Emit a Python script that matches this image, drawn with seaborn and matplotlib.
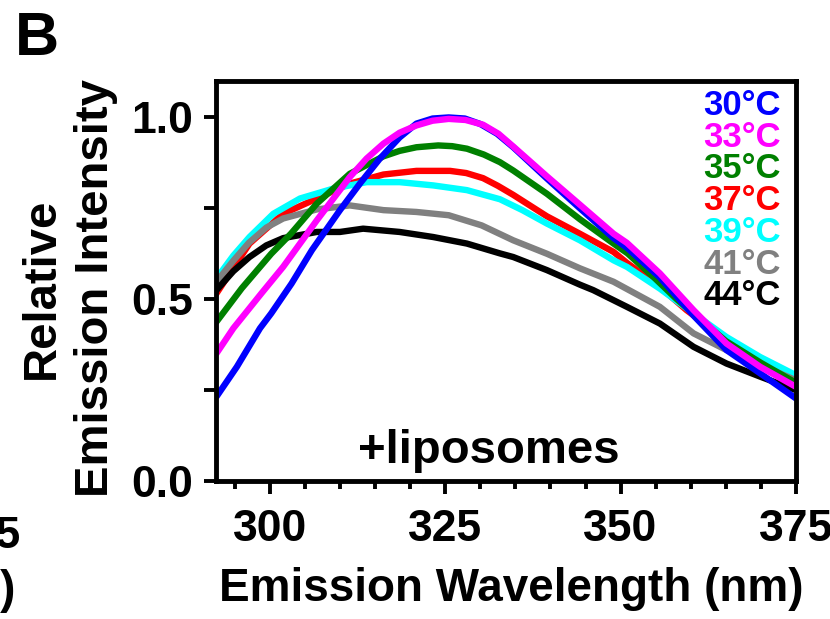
import matplotlib
matplotlib.use("Agg")
import matplotlib.pyplot as plt
import pandas as pd
import seaborn as sns
from matplotlib.ticker import MultipleLocator

# emission spectra (+liposomes)
labels = ["30°C", "33°C", "35°C", "37°C", "39°C", "41°C", "44°C"]
colors = ["#0000FF", "#FF00FF", "#008000", "#FF0000", "#00FFFF", "#808080", "#000000"]

wl_30 = [292.4, 295.3, 298.6, 300.2, 303.1, 306.0, 310.0, 313.0, 315.7, 318.5, 320.9, 323.2,
         325.5, 327.8, 330.0, 332.4, 334.7, 339.5, 344.2, 349.0, 351.0, 355.6, 360.4, 365.1,
         369.9, 375.0]
int_30 = [0.232, 0.314, 0.420, 0.461, 0.543, 0.635, 0.745, 0.822, 0.887, 0.945, 0.983, 0.997,
          1.000, 0.997, 0.982, 0.955, 0.918, 0.832, 0.750, 0.668, 0.640, 0.560, 0.455, 0.360,
          0.296, 0.227]

wl_33 = [292.4, 294.8, 298.8, 301.9, 306.7, 311.4, 313.8, 316.2, 318.5, 320.9, 323.2, 325.5,
         327.9, 330.4, 332.6, 334.7, 339.5, 344.2, 349.0, 350.9, 355.6, 360.4, 365.1, 369.9,
         375.0]
int_33 = [0.351, 0.420, 0.516, 0.589, 0.717, 0.836, 0.887, 0.928, 0.958, 0.978, 0.991, 0.996,
          0.993, 0.980, 0.955, 0.920, 0.838, 0.760, 0.680, 0.655, 0.571, 0.470, 0.378, 0.314,
          0.259]

wl_35 = [292.4, 296.0, 300.2, 303.0, 306.7, 311.4, 316.2, 318.5, 320.9, 324.0, 326.0, 328.1,
         330.5, 332.8, 334.7, 339.5, 344.2, 349.0, 351.0, 354.7, 358.0, 360.4, 365.0, 370.0,
         375.0]
int_35 = [0.438, 0.530, 0.625, 0.680, 0.763, 0.845, 0.893, 0.908, 0.918, 0.923, 0.921, 0.914,
          0.898, 0.877, 0.854, 0.790, 0.720, 0.653, 0.626, 0.561, 0.500, 0.460, 0.385, 0.325,
          0.270]

wl_37 = [292.4, 297.1, 301.9, 306.7, 311.4, 316.2, 320.9, 325.7, 328.0, 330.4, 332.5, 334.7,
         339.5, 344.2, 349.0, 350.9, 355.6, 359.4, 365.0, 370.0, 375.0]
int_37 = [0.516, 0.653, 0.735, 0.777, 0.818, 0.843, 0.853, 0.853, 0.847, 0.833, 0.812, 0.787,
          0.728, 0.680, 0.630, 0.600, 0.534, 0.470, 0.390, 0.330, 0.270]

wl_39 = [292.4, 294.8, 297.1, 300.5, 304.3, 309.0, 313.8, 318.5, 323.3, 328.1, 332.8, 336.0,
         339.5, 344.2, 349.0, 350.9, 355.6, 360.4, 365.1, 369.9, 375.0]
int_39 = [0.557, 0.620, 0.671, 0.735, 0.777, 0.804, 0.822, 0.822, 0.813, 0.800, 0.775, 0.745,
          0.708, 0.662, 0.607, 0.589, 0.529, 0.461, 0.396, 0.341, 0.291]

wl_41 = [292.4, 294.8, 297.0, 299.5, 301.9, 306.7, 311.4, 316.2, 320.9, 325.5, 330.2, 334.7,
         339.5, 344.2, 349.0, 355.6, 360.4, 365.1, 369.9, 375.0]
int_41 = [0.548, 0.606, 0.655, 0.697, 0.722, 0.747, 0.758, 0.745, 0.740, 0.731, 0.703, 0.662,
          0.625, 0.585, 0.548, 0.479, 0.406, 0.360, 0.319, 0.277]

wl_44 = [292.4, 294.8, 297.1, 299.5, 301.9, 306.7, 310.0, 313.3, 318.5, 323.3, 328.1, 332.8,
         334.7, 339.5, 344.2, 346.1, 350.9, 355.6, 360.4, 365.1, 369.9, 375.0]
int_44 = [0.525, 0.577, 0.616, 0.648, 0.668, 0.685, 0.685, 0.694, 0.685, 0.671, 0.653, 0.626,
          0.616, 0.580, 0.540, 0.525, 0.479, 0.433, 0.369, 0.323, 0.287, 0.250]

series = {
    "30°C": (wl_30, int_30),
    "33°C": (wl_33, int_33),
    "35°C": (wl_35, int_35),
    "37°C": (wl_37, int_37),
    "39°C": (wl_39, int_39),
    "41°C": (wl_41, int_41),
    "44°C": (wl_44, int_44),
}
draw_order = ["37°C", "39°C", "41°C", "44°C", "35°C", "30°C", "33°C"]


def main():
    sns.set_theme(style="ticks")
    plt.rcParams["font.family"] = ["Liberation Sans", "DejaVu Sans"]
    plt.rcParams["font.weight"] = "bold"
    plt.rcParams["text.color"] = "black"
    plt.rcParams["axes.labelcolor"] = "black"
    plt.rcParams["xtick.color"] = "black"
    plt.rcParams["ytick.color"] = "black"
    plt.rcParams["axes.edgecolor"] = "black"

    fig = plt.figure(figsize=(8.3, 6.19), dpi=100)
    ax = fig.add_axes([0.260, 0.223, 0.699, 0.646])

    palette = dict(zip(labels, colors))
    for name in draw_order:
        wl, inten = series[name]
        df = pd.DataFrame({"wavelength": wl, "intensity": inten})
        sns.lineplot(x="wavelength", y="intensity", data=df, color=palette[name],
                     linewidth=4.6, ax=ax, solid_capstyle="round", solid_joinstyle="round")

    ax.set_xlim(292.3, 375)
    ax.set_ylim(0, 1.1)
    ax.xaxis.set_major_locator(MultipleLocator(25))
    ax.xaxis.set_minor_locator(MultipleLocator(5))
    ax.set_yticks([0.0, 0.5, 1.0])
    ax.set_yticklabels(["0.0", "0.5", "1.0"])
    ax.yaxis.set_minor_locator(MultipleLocator(0.25))

    for side in ["left", "right", "top", "bottom"]:
        ax.spines[side].set_linewidth(3.5)
        ax.spines[side].set_color("black")
    ax.tick_params(axis="both", which="major", direction="out", length=9, width=2.8,
                   labelsize=32, color="black", labelcolor="black")
    ax.tick_params(axis="x", which="major", pad=11)
    ax.tick_params(axis="y", which="major", pad=7)
    ax.tick_params(axis="x", which="minor", direction="out", length=6, width=2.8, color="black")
    ax.tick_params(axis="y", which="minor", direction="out", length=9, width=2.8, color="black")
    for lab in ax.get_xticklabels() + ax.get_yticklabels():
        lab.set_fontweight("bold")

    ax.set_xlabel("Emission Wavelength (nm)", fontsize=33, fontweight="bold", color="black")
    ax.set_ylabel("Relative\nEmission Intensity", fontsize=34, fontweight="bold",
                  linespacing=1.3, color="black")
    ax.xaxis.set_label_coords(0.51, -0.215)
    ax.yaxis.set_label_coords(-0.168, 0.483)

    # colored temperature labels instead of a legend
    for i, (name, col) in enumerate(zip(labels, colors)):
        ax.text(0.974, 0.939 - i * 0.0793, name, transform=ax.transAxes, ha="right",
                va="center", fontsize=25, fontweight="bold", color=col)

    ax.text(0.47, 0.045, "+liposomes", transform=ax.transAxes, ha="center", va="baseline",
            fontsize=34, fontweight="bold", color="black")

    fig.text(15 / 830, 1 - 11 / 619, "B", ha="left", va="top", fontsize=44, fontweight="bold",
             color="black")
    # bits of the neighbouring panel cut by the frame
    fig.text(21 / 830, 1 - 548 / 619, "375", ha="right", va="baseline", fontsize=32,
             fontweight="bold", color="black")
    fig.text(16 / 830, 1 - 603 / 619, "(nm)", ha="right", va="baseline", fontsize=33,
             fontweight="bold", color="black")

    fig.savefig("out.png", dpi=100)


if __name__ == "__main__":
    main()
